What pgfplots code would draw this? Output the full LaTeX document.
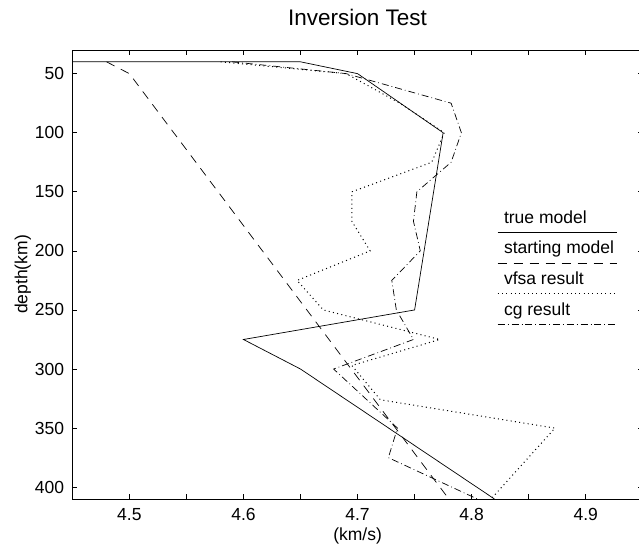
\documentclass[border=0pt]{standalone}
\usepackage{fontspec}
\setmainfont{Liberation Sans}
\usepackage{pgfplots}
\pgfplotsset{compat=1.18}
\begin{document}
\begin{tikzpicture}
\begin{axis}[
  at={(0pt,0pt)}, anchor=south west,
  scale only axis, width=570.5pt, height=449pt,
  xmin=4.45, xmax=4.95, ymin=30, ymax=410, y dir=reverse,
  axis line style={line width=0.9pt},
  tick align=inside, tick pos=both,
  major tick length=5pt, minor tick length=5pt,
  every tick/.style={black, line width=0.7pt},
  xtick={4.5,4.6,4.7,4.8,4.9}, xticklabels={4.5,4.6,4.7,4.8,4.9},
  minor xtick={4.55,4.65,4.75,4.85},
  ytick={50,100,150,200,250,300,350,400},
  yticklabels={50,100,150,200,250,300,350,400},
  tick label style={font=\fontsize{17.5}{21}\selectfont, inner sep=0pt},
  xticklabel style={anchor=base, yshift=-21pt},
  yticklabel style={anchor=east, xshift=-8pt},
  xlabel={(km/s)}, ylabel={depth(km)}, title={Inversion Test},
  label style={font=\fontsize{17.5}{21}\selectfont, inner sep=0pt},
  xlabel style={at={(axis description cs:0.5,-0.0935)}, anchor=base},
  ylabel style={at={(axis description cs:-0.0789,0.5)}, anchor=base},
  title style={font=\fontsize{22.5}{26}\selectfont, inner sep=0pt, at={(axis description cs:0.5,1.0401)}, anchor=base},
  legend style={draw=none, fill=none, at={(0.7457,0.6419)}, anchor=north west,
    inner sep=0pt, outer sep=0pt, row sep=18.1pt, column sep=0pt,
    font=\fontsize{17.5}{21}\selectfont,
    nodes={inner sep=0pt, text height=12.5pt, text depth=0pt}},
  legend cell align=left,
  legend image code/.code={\draw[#1, overlay] (0pt,-15.25pt) -- (119pt,-15.25pt); \path[draw=none] (0pt,0pt) rectangle (6.3pt,0pt);},
]
\addplot[black, line width=0.7pt] coordinates {
 (4.45,40) (4.65,40) (4.70,50) (4.775,100) (4.75,250) (4.60,275) (4.65,300) (4.82,410)};
\addlegendentry{true model}
\addplot[black, line width=0.7pt, dash pattern=on 9pt off 7pt] coordinates {
 (4.48,40) (4.50,50) (4.78,410)};
\addlegendentry{starting model}
\addplot[black, line width=1pt, dash pattern=on 1pt off 3.3pt] coordinates {
 (4.58,40) (4.69,50) (4.737,75) (4.776,100) (4.765,125) (4.695,150) (4.695,175)
 (4.711,200) (4.647,225) (4.67,250) (4.772,275) (4.695,297) (4.72,326)
 (4.873,350) (4.817,410)};
\addlegendentry{vfsa result}
\addplot[black, line width=0.7pt, dash pattern=on 7pt off 3pt on 0.8pt off 3pt] coordinates {
 (4.59,40) (4.69,50) (4.782,75) (4.791,100) (4.782,125) (4.752,150) (4.749,175)
 (4.755,200) (4.73,225) (4.734,250) (4.749,275) (4.679,300) (4.735,350)
 (4.727,375) (4.805,410)};
\addlegendentry{cg result}
\end{axis}
\pgfresetboundingbox
\path (-72.3pt,-49pt) rectangle (566.7pt,499pt);
\end{tikzpicture}
\end{document}
